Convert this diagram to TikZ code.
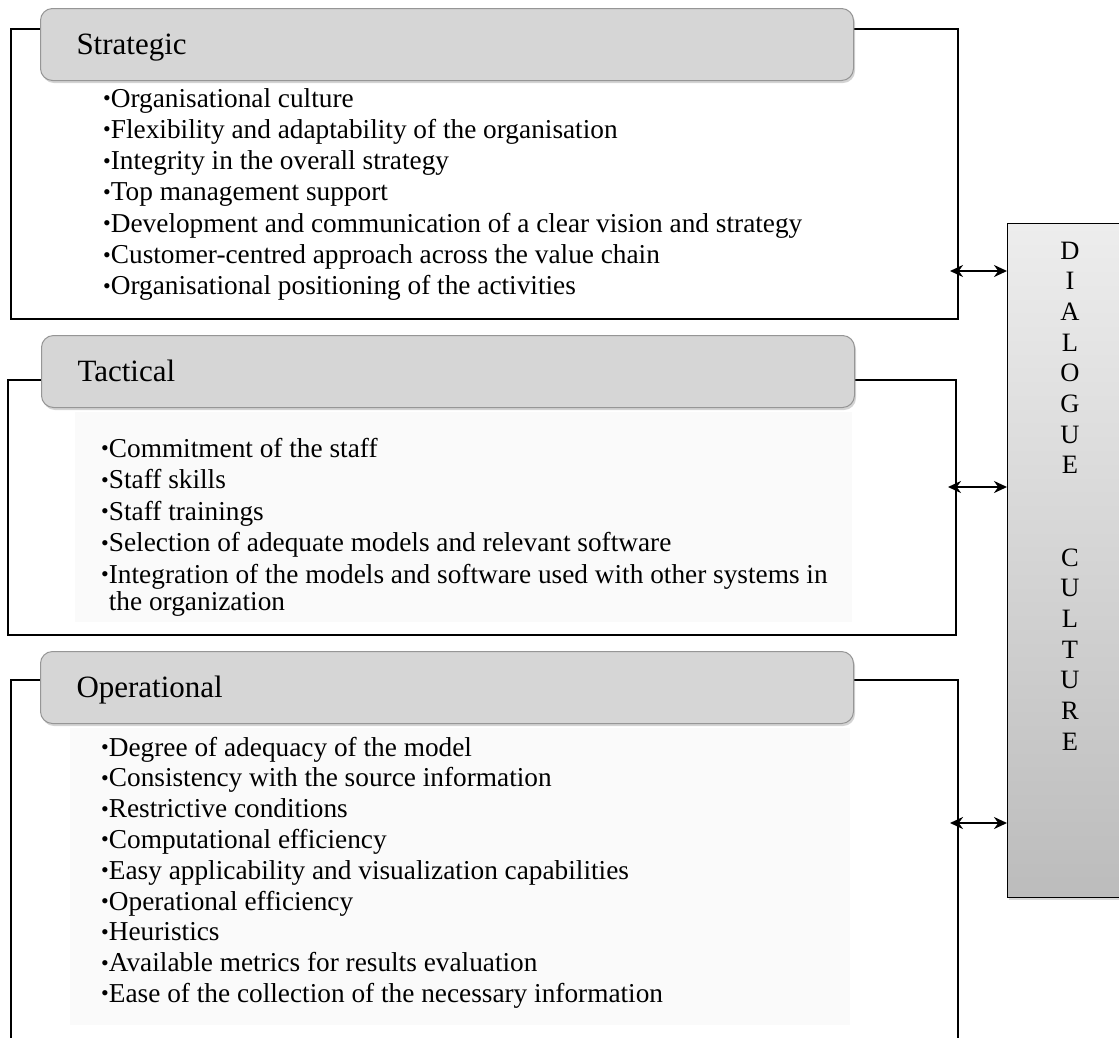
\documentclass[tikz,border=0pt]{standalone}
\usepackage{fontspec}
\setmainfont{Liberation Serif}
\usepackage{xcolor}
\definecolor{headgray}{RGB}{214,214,214}
\definecolor{headrule}{RGB}{150,150,150}
\definecolor{boxtop}{RGB}{237,237,237}
\definecolor{boxbottom}{RGB}{188,188,188}
\definecolor{listbg}{RGB}{250,250,250}
\usetikzlibrary{arrows.meta}
\usetikzlibrary{shadows}
\usetikzlibrary{positioning}

\newcommand{\itemdot}{\raisebox{1.5pt}{\fontsize{22}{22}\selectfont\textbullet}}

\tikzset{
  levelframe/.style={draw, line width=2pt, anchor=north west, inner sep=0pt},
  levelhead/.style={draw=headrule, fill=headgray, rounded corners=12pt, line width=1pt,
    anchor=north west, minimum width=813pt, minimum height=72pt, text width=741pt,
    inner xsep=36pt, align=left, font=\fontsize{31}{36}\selectfont,
    text height=21pt, text depth=2pt,
    drop shadow={shadow xshift=1.5pt, shadow yshift=-2.5pt, opacity=0.35}},
  dialoguebox/.style={draw, line width=1.2pt, anchor=north west, minimum width=130pt,
    minimum height=674pt, top color=boxtop, bottom color=boxbottom,
    drop shadow={shadow xshift=1.5pt, shadow yshift=-2.5pt, opacity=0.3}},
  item/.style={anchor=base west, inner sep=0pt, font=\fontsize{27.3}{31}\selectfont},
  letter/.style={anchor=base, inner sep=0pt, font=\fontsize{26.5}{30}\selectfont},
  link/.style={line width=2.6pt, arrows={Stealth[length=13pt,width=12pt]-Stealth[length=13pt,width=12pt]}},
}

\begin{document}
\begin{tikzpicture}[x=1pt, y=-1pt]
  \clip (0,0) rectangle (1119,1037);

  % faint list backgrounds
  \fill[listbg] (75,412) rectangle (852,622);
  \fill[listbg] (70,728) rectangle (850,1025);

  % frames
  \node[levelframe, minimum width=947pt, minimum height=290pt] (stratframe) at (10,28) {};
  \node[levelframe, minimum width=948pt, minimum height=255pt] (tactframe) at (7,379) {};
  \node[levelframe, minimum width=947pt, minimum height=380pt] (operframe) at (10,679) {};

  % headers
  \node[levelhead] (strathead) at (40,8) {Strategic};
  \node[levelhead] (tacthead) at (41,335) {Tactical};
  \node[levelhead] (operhead) at (40,651) {Operational};

  % strategic
  \foreach \txt [count=\i from 0] in {Organisational culture,
      Flexibility and adaptability of the organisation,
      Integrity in the overall strategy,
      Top management support,
      Development and communication of a clear vision and strategy,
      Customer-centred approach across the value chain,
      Organisational positioning of the activities}
    \node[item] (strat\i) at (103,{107+31.3*\i}) {\itemdot\txt};

  % tactical
  \foreach \txt [count=\i from 0] in {Commitment of the staff,
      Staff skills,
      Staff trainings,
      Selection of adequate models and relevant software,
      Integration of the models and software used with other systems in}
    \node[item] (tact\i) at (101,{457+31.5*\i}) {\itemdot\txt};
  \node[item] (tact5) at (101,610) {\phantom{\itemdot}the organization};

  % operational
  \foreach \txt [count=\i from 0] in {Degree of adequacy of the model,
      Consistency with the source information,
      Restrictive conditions,
      Computational efficiency,
      Easy applicability and visualization capabilities,
      Operational efficiency,
      Heuristics,
      Available metrics for results evaluation,
      Ease of the collection of the necessary information}
    \node[item] (oper\i) at (101,{756+30.8*\i}) {\itemdot\txt};

  % dialogue culture
  \node[dialoguebox] (dialogue) at (1007,223) {};
  \foreach \ch/\k in {D/0,I/1,A/2,L/3,O/4,G/5,U/6,E/7,C/10,U/11,L/12,T/13,U/14,R/15,E/16}
    \node[letter] (dl\k) at (1070,{259+30.7*\k}) {\ch};

  % links
  \coordinate (stratlink) at (950,271);
  \coordinate (tactlink) at (948,487);
  \coordinate (operlink) at (950,823);
  \draw[link] (stratlink) -- (stratlink -| dialogue.west);
  \draw[link] (tactlink) -- (tactlink -| dialogue.west);
  \draw[link] (operlink) -- (operlink -| dialogue.west);
\end{tikzpicture}
\end{document}
